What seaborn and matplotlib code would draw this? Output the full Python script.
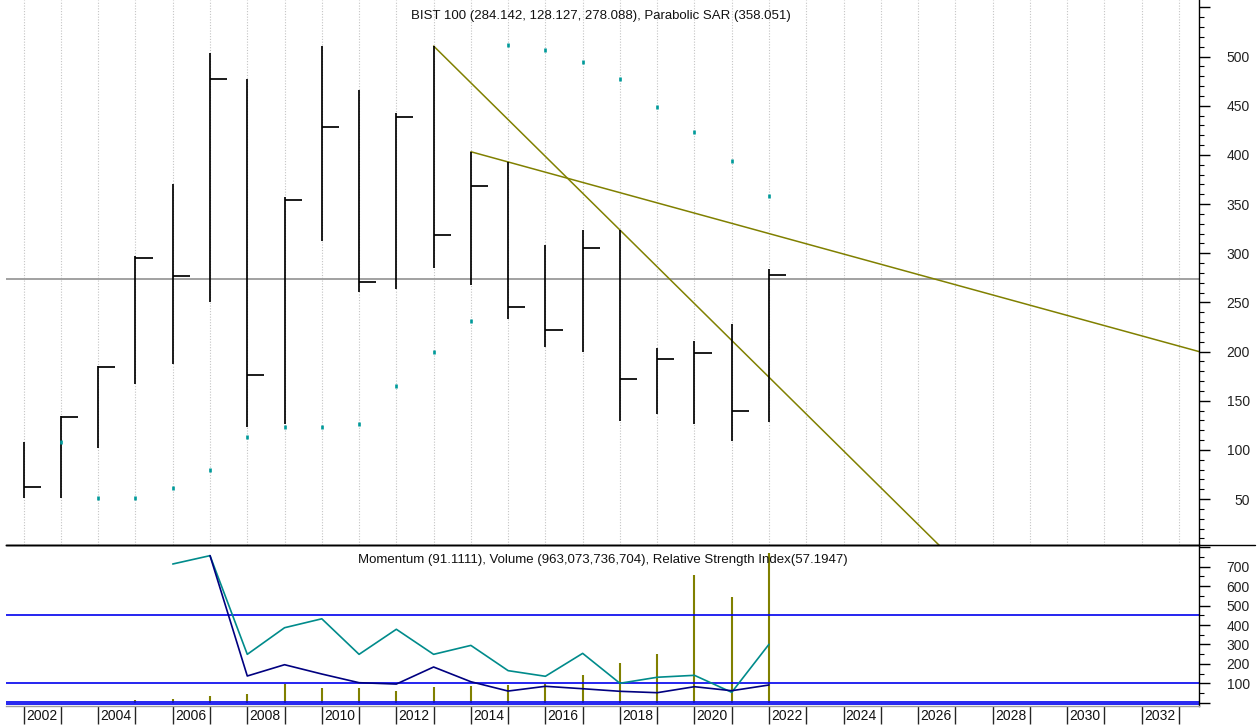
import matplotlib
matplotlib.use("Agg")
import matplotlib.pyplot as plt
import matplotlib.transforms as mtransforms
from matplotlib.lines import Line2D
from matplotlib.ticker import FixedLocator, MultipleLocator, FuncFormatter
import numpy as np
import pandas as pd
import seaborn as sns

# ---------------- data ----------------
years = list(range(2002, 2023))
high = [108.3, 134.4, 185.3, 297.5, 370.1, 503.3, 477.2, 357.5, 511.0, 466.0, 442.3,
        510.7, 403.2, 392.8, 308.3, 323.6, 323.6, 203.3, 210.7, 228.0, 284.142]
low = [51.4, 51.4, 102.2, 167.3, 187.0, 250.7, 123.6, 126.3, 312.4, 260.2, 263.6,
       284.7, 267.7, 233.1, 204.9, 199.8, 129.4, 136.5, 126.0, 109.3, 128.127]
close = [62.5, 133.7, 184.3, 295.1, 277.3, 477.5, 176.1, 354.1, 428.4, 270.4, 438.8,
         318.5, 368.4, 245.6, 221.9, 305.6, 172.4, 192.4, 198.5, 139.5, 278.088]

sar_years = list(range(2003, 2023))
sar = [108.3, 51.4, 51.4, 60.9, 79.8, 113.1, 123.6, 123.6, 126.0, 165.0, 199.2,
       231.1, 511.4, 506.7, 494.8, 477.2, 449.0, 423.0, 393.5, 358.051]

trend_anchor_years = [(2013, 2018), (2014, 2015)]   # trend lines through these highs
level_line = 274.0

rsi_years = list(range(2006, 2023))
rsi_line = [714, 757, 249, 386, 432, 249, 378, 249, 295, 165, 136, 254, 100, 131, 141, 53.5, 300.6]

mom_years = list(range(2007, 2023))
momentum = [757, 137.5, 195.6, 147.7, 103, 96, 183.8, 108, 60, 84.4, 72, 58.7, 51.5, 82.4, 61.8, 91.1111]

vol_years = list(range(2005, 2023))
volume_bn = [17.5, 23.8, 45.1, 53.9, 120.2, 96.4, 96.4, 75.1, 98.9, 109.6, 114.0, 118.5,
             178.6, 254.2, 314.4, 822.8, 679.6, 963.074]

bottom_levels = [451.5, 100, 5, -7]

label_years = list(range(2002, 2033, 2))
grid_years = list(range(2002, 2034))

title_top = "BIST 100 (284.142, 128.127, 278.088), Parabolic SAR (358.051)"
title_bottom = "Momentum (91.1111), Volume (963,073,736,704), Relative Strength Index(57.1947)"

# ---------------- style ----------------
sns.set_theme(style="white")
plt.rcParams["font.family"] = ["Liberation Sans", "DejaVu Sans"]

W, H = 1259, 728
fig = plt.figure(figsize=(W / 100, H / 100), dpi=100)
fig.patch.set_facecolor("white")

x0, x1 = 6 / W, 1199 / W
ax1 = fig.add_axes([x0, 1 - 544.5 / H, x1 - x0, 544.5 / H])
ax2 = fig.add_axes([x0, 1 - 705.7 / H, x1 - x0, (705.7 - 544.5) / H])

XLIM = (2001.525, 2033.54)
GRID_KW = dict(color="#c4c4c4", linestyle=(0, (1, 1.5)), linewidth=0.8)
for ax in (ax1, ax2):
    ax.set_xlim(*XLIM)
    ax.set_facecolor("white")
    ax.xaxis.set_major_locator(FixedLocator(grid_years))
    ax.grid(False)
    ax.set_axisbelow(True)
    ax.spines["left"].set_visible(False)

ax1.grid(axis="x", which="major", **GRID_KW)
ax1.set_ylim(3.8, 557.5)
ax2.set_ylim(-15.4, 814.4)

# ---------------- top panel ----------------
ax1.axhline(level_line, color="#9a9a9a", lw=1.3, zorder=1)

df = pd.DataFrame({"year": years, "high": high, "low": low, "close": close})
hi_map = dict(zip(years, high))
for ya, yb in trend_anchor_years:
    slope = (hi_map[yb] - hi_map[ya]) / (yb - ya)
    xs = np.array([ya, XLIM[1]])
    ys = hi_map[ya] + slope * (xs - ya)
    ax1.plot(xs, ys, color="#808000", lw=1.1, zorder=2)

ax1.vlines(df["year"], df["low"], df["high"], color="black", lw=1.25, zorder=3)
ax1.hlines(df["close"], df["year"], df["year"] + 0.46, color="black", lw=1.25, zorder=3)

sns.scatterplot(x=sar_years, y=sar, ax=ax1, marker="|", s=10, linewidth=1.9,
                color="#009a9a", zorder=4, legend=False)

ax1.yaxis.tick_right()
ax1.yaxis.set_major_locator(FixedLocator(list(range(50, 600, 50))))
ax1.yaxis.set_major_formatter(FuncFormatter(lambda v, p: f"{int(v)}" if 50 <= v <= 500 else ""))
ax1.yaxis.set_minor_locator(MultipleLocator(10))
ax1.tick_params(axis="y", which="major", direction="out", length=7.7, width=1.0,
                color="black", labelsize=10, pad=29, labelcolor="#222222", right=True)
ax1.tick_params(axis="y", which="minor", direction="out", length=3.4, width=0.8,
                color="black", right=True)
ax1.tick_params(axis="x", which="both", length=0, labelbottom=False)
plt.setp(ax1.get_yticklabels(), ha="right")
ax1.spines["top"].set_visible(False)
ax1.spines["right"].set_color("black")
ax1.spines["right"].set_linewidth(1.0)
ax1.spines["bottom"].set_color("black")
ax1.spines["bottom"].set_linewidth(1.0)

# ---------------- bottom panel ----------------
# volume on its own (hidden) scale, drawn behind the indicator lines
axv = ax2.twinx()
axv.set_ylim(-19.3, 1020)
axv.set_axisbelow(True)
axv.grid(False)
axv.grid(axis="x", which="major", **GRID_KW)
for s in axv.spines.values():
    s.set_visible(False)
axv.tick_params(axis="both", which="both", length=0, labelleft=False, labelright=False,
                labelbottom=False, left=False, right=False, bottom=False)
axv.vlines(vol_years, 0, volume_bn, color="#808000", lw=1.5)

ax2.set_zorder(axv.get_zorder() + 1)
ax2.patch.set_visible(False)

for lv in bottom_levels:
    ax2.axhline(lv, color="#0000ee", lw=1.2, zorder=2)

sns.lineplot(x=rsi_years, y=rsi_line, ax=ax2, color="#008b8b", lw=1.2, zorder=4, legend=False)
sns.lineplot(x=mom_years, y=momentum, ax=ax2, color="#000080", lw=1.2, zorder=4, legend=False)

ax2.yaxis.tick_right()
ax2.yaxis.set_major_locator(FixedLocator(list(range(0, 900, 100))))
ax2.yaxis.set_major_formatter(FuncFormatter(lambda v, p: f"{int(v)}" if 100 <= v <= 700 else ""))
ax2.yaxis.set_minor_locator(MultipleLocator(50))
ax2.tick_params(axis="y", which="major", direction="out", length=7.7, width=1.0,
                color="black", labelsize=10, pad=29, labelcolor="#222222", right=True)
ax2.tick_params(axis="y", which="minor", direction="out", length=3.4, width=0.8,
                color="black", right=True)
plt.setp(ax2.get_yticklabels(), ha="right")
ax2.tick_params(axis="x", which="major", direction="out", length=12.7, width=1.0,
                bottom=True, labelbottom=False)
ax2.tick_params(axis="x", which="minor", bottom=False)
for i, t in enumerate(ax2.xaxis.get_major_ticks()):
    t.tick1line.set_color("#6e6e6e" if grid_years[i] % 2 == 0 else "#111111")
ax2.spines["top"].set_color("black")
ax2.spines["top"].set_linewidth(1.0)
ax2.spines["right"].set_color("black")
ax2.spines["right"].set_linewidth(1.0)
ax2.spines["bottom"].set_color("#a0a0a0")
ax2.spines["bottom"].set_linewidth(1.0)
for ax in (ax1, ax2):
    ax.set_xlabel("")
    ax.set_ylabel("")

trans = mtransforms.blended_transform_factory(ax2.transData, fig.transFigure)
for yr in label_years:
    ax2.text(yr + 0.06, 1 - 715.5 / H, str(yr), transform=trans, ha="left", va="center",
             fontsize=10, color="#111111", clip_on=False)

# separator line extending to the right edge
fig.add_artist(Line2D([x0, 1255 / W], [1 - 544.5 / H] * 2, color="black", lw=1.0,
                      transform=fig.transFigure))

fig.text(601 / W, 1 - 16 / H, title_top, ha="center", va="center", fontsize=9.5, color="#111111")
fig.text(602.5 / W, 1 - 559.5 / H, title_bottom, ha="center", va="center", fontsize=9.5,
         color="#111111", zorder=10)

fig.savefig("out.png", dpi=100, facecolor="white")
